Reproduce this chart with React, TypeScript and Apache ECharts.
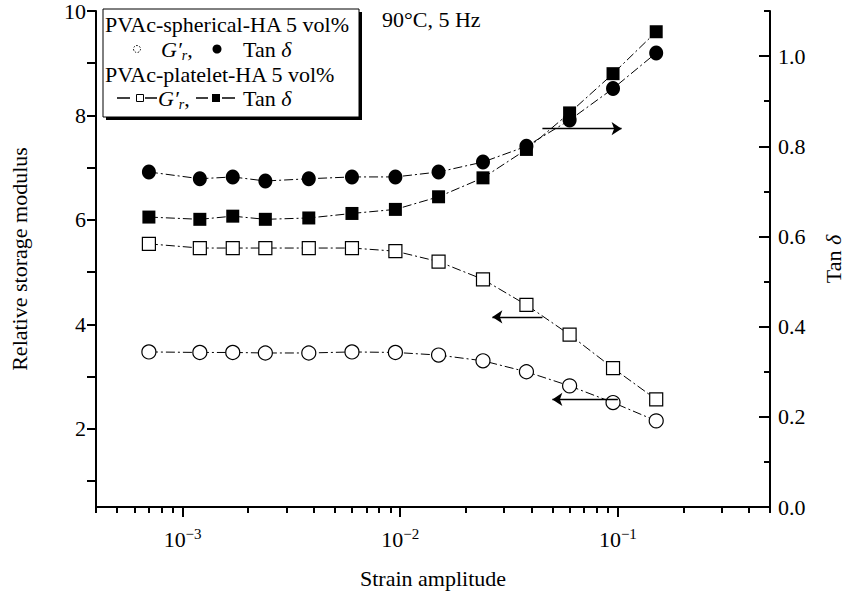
import React, { useEffect, useRef } from 'react';
import * as echarts from 'echarts';

const strain = [0.0007, 0.0012, 0.0017, 0.0024, 0.0038, 0.006, 0.0095, 0.015, 0.024, 0.038, 0.06, 0.095, 0.15];
const sphericalG = [3.47, 3.46, 3.46, 3.45, 3.45, 3.47, 3.46, 3.41, 3.3, 3.09, 2.82, 2.5, 2.15];
const sphericalTan = [0.743, 0.728, 0.732, 0.723, 0.728, 0.732, 0.732, 0.743, 0.765, 0.8, 0.858, 0.928, 1.007];
const plateletG = [5.54, 5.46, 5.46, 5.46, 5.46, 5.46, 5.4, 5.2, 4.86, 4.37, 3.8, 3.16, 2.56];
const plateletTan = [0.643, 0.638, 0.645, 0.638, 0.641, 0.651, 0.66, 0.688, 0.73, 0.793, 0.874, 0.961, 1.054];

const xMajor = [0.001, 0.01, 0.1];
const xMinor = [
  0.0004, 0.0005, 0.0006, 0.0007, 0.0008, 0.0009,
  0.002, 0.003, 0.004, 0.005, 0.006, 0.007, 0.008, 0.009,
  0.02, 0.03, 0.04, 0.05, 0.06, 0.07, 0.08, 0.09,
  0.2, 0.3, 0.4, 0.5,
];
const leftTicks = [1, 2, 3, 4, 5, 6, 7, 8, 9, 10];
const leftLabels = [2, 4, 6, 8, 10];
const rightMajor = [0, 0.2, 0.4, 0.6, 0.8, 1.0];
const rightMinor = [0.1, 0.3, 0.5, 0.7, 0.9, 1.1];

// arrow annotations [start, end] in data coordinates
const arrowTan = [[0.045, 0.839], [0.104, 0.839]];
const arrowPlatelet = [[0.045, 4.14], [0.0265, 4.14]];
const arrowSpherical = [[0.1, 2.56], [0.05, 2.56]];

const FONT = '"Liberation Serif", "Times New Roman", serif';
const BLACK = '#000';
const DASH = [9, 3, 2, 3];
const FS = 22;

function arrowMark(a: number[][]) {
  return {
    silent: true,
    symbol: ['none', 'arrow'],
    symbolSize: 10,
    label: { show: false },
    lineStyle: { color: BLACK, width: 1.3, type: 'solid' },
    emphasis: { disabled: true },
    data: [[{ coord: a[0] }, { coord: a[1] }]],
  };
}

const richG = {
  g: { fontFamily: FONT, fontSize: FS, fontStyle: 'italic', color: BLACK, lineHeight: 26 },
  r: { fontFamily: FONT, fontSize: 14, fontStyle: 'italic', color: BLACK, lineHeight: 12, verticalAlign: 'bottom' },
  c: { fontFamily: FONT, fontSize: FS, color: BLACK, lineHeight: 26 },
  n: { fontFamily: FONT, fontSize: FS, color: BLACK, lineHeight: 26 },
  d: { fontFamily: FONT, fontSize: FS, fontStyle: 'italic', color: BLACK, lineHeight: 26 },
};

export default function App() {
  const ref = useRef<HTMLDivElement>(null);
  useEffect(() => {
    document.body.style.margin = '0';
    const chart = echarts.init(ref.current!, null, { renderer: 'svg' });
    const pts = (ys: number[]) => strain.map((x, i) => [x, ys[i]]);
    const lineStyle = { color: BLACK, width: 1, type: DASH };
    const axisLineStyle = { color: BLACK, width: 2 };
    const txt = (text: string, x: number, y: number) => ({
      type: 'text', z: 102, x, y,
      style: { text, fontFamily: FONT, fontSize: FS, fill: BLACK, verticalAlign: 'middle' },
    });
    const rich = (text: string, x: number, y: number) => ({
      type: 'text', z: 102, x, y,
      style: { text, rich: richG, verticalAlign: 'middle' },
    });
    chart.setOption({
      animation: false,
      backgroundColor: '#fff',
      grid: { left: 93, right: 70, top: 11, bottom: 79, containLabel: false },
      xAxis: [
        {
          type: 'log',
          logBase: 10,
          min: 0.0004,
          max: 0.5,
          position: 'bottom',
          axisLine: { show: true, lineStyle: axisLineStyle },
          axisTick: { show: true, length: 10, customValues: xMajor, lineStyle: { color: BLACK, width: 2 } },
          axisLabel: {
            customValues: xMajor,
            margin: 19,
            formatter: (v: number) => {
              const e = Math.round(Math.log10(v));
              return `{b|10}{s|${e < 0 ? '−' : ''}${Math.abs(e)}}`;
            },
            rich: {
              b: { fontFamily: FONT, fontSize: FS, color: BLACK, lineHeight: 26 },
              s: { fontFamily: FONT, fontSize: 15, color: BLACK, lineHeight: 14, verticalAlign: 'top' },
            },
          },
          splitLine: { show: false },
          minorTick: { show: false },
          name: 'Strain amplitude',
          nameLocation: 'middle',
          nameGap: 60,
          nameTextStyle: { fontFamily: FONT, fontSize: FS, color: BLACK },
        },
        {
          type: 'log',
          logBase: 10,
          min: 0.0004,
          max: 0.5,
          position: 'bottom',
          axisLine: { show: false },
          axisTick: { show: true, length: 6, customValues: xMinor, lineStyle: { color: BLACK, width: 2 } },
          axisLabel: { show: false },
          splitLine: { show: false },
        },
      ],
      yAxis: [
        {
          type: 'value',
          position: 'left',
          min: 0.5,
          max: 10,
          axisLine: { show: true, lineStyle: axisLineStyle },
          axisTick: { show: true, length: 9, customValues: leftTicks, lineStyle: { color: BLACK, width: 2 } },
          axisLabel: { customValues: leftLabels, margin: 10, fontFamily: FONT, fontSize: FS, color: BLACK },
          splitLine: { show: false },
          name: 'Relative storage modulus',
          nameLocation: 'middle',
          nameGap: 66,
          nameRotate: 90,
          nameTextStyle: { fontFamily: FONT, fontSize: FS, color: BLACK },
        },
        {
          type: 'value',
          position: 'right',
          min: 0,
          max: 1.1,
          axisLine: { show: true, lineStyle: axisLineStyle },
          axisTick: { show: true, inside: true, length: 11, customValues: rightMajor, lineStyle: { color: BLACK, width: 2 } },
          axisLabel: {
            customValues: rightMajor,
            margin: 8,
            fontFamily: FONT,
            fontSize: FS,
            color: BLACK,
            formatter: (v: number) => v.toFixed(1),
          },
          splitLine: { show: false },
          name: '{n|Tan }{d|δ}',
          nameLocation: 'middle',
          nameGap: 50,
          nameRotate: 90,
          nameTextStyle: { rich: richG },
        },
        {
          type: 'value',
          position: 'right',
          min: 0,
          max: 1.1,
          axisLine: { show: false },
          axisTick: { show: true, inside: true, length: 6, customValues: rightMinor, lineStyle: { color: BLACK, width: 2 } },
          axisLabel: { show: false },
          splitLine: { show: false },
        },
      ],
      series: [
        {
          type: 'line',
          name: 'spherical G',
          xAxisIndex: 0,
          yAxisIndex: 0,
          data: pts(sphericalG),
          symbol: 'circle',
          symbolSize: 14,
          itemStyle: { color: '#fff', borderColor: BLACK, borderWidth: 1.2 },
          lineStyle,
          markLine: arrowMark(arrowSpherical),
        },
        {
          type: 'line',
          name: 'platelet G',
          xAxisIndex: 0,
          yAxisIndex: 0,
          data: pts(plateletG),
          symbol: 'rect',
          symbolSize: 13,
          itemStyle: { color: '#fff', borderColor: BLACK, borderWidth: 1.2 },
          lineStyle,
          markLine: arrowMark(arrowPlatelet),
        },
        {
          type: 'line',
          name: 'spherical tan',
          xAxisIndex: 0,
          yAxisIndex: 1,
          data: pts(sphericalTan),
          symbol: 'circle',
          symbolSize: [14, 15],
          itemStyle: { color: BLACK, borderColor: BLACK, borderWidth: 0 },
          lineStyle,
          markLine: arrowMark(arrowTan),
        },
        {
          type: 'line',
          name: 'platelet tan',
          xAxisIndex: 0,
          yAxisIndex: 1,
          data: pts(plateletTan),
          symbol: 'rect',
          symbolSize: 13,
          itemStyle: { color: BLACK, borderColor: BLACK, borderWidth: 0 },
          lineStyle,
        },
      ],
      graphic: [
        { type: 'rect', z: 100, shape: { x: 106, y: 12, width: 256, height: 108 }, style: { fill: BLACK } },
        { type: 'rect', z: 101, shape: { x: 103, y: 9, width: 256, height: 108 }, style: { fill: '#fff', stroke: BLACK, lineWidth: 1 } },
        txt('PVAc-spherical-HA 5 vol%', 105, 24),
        { type: 'circle', z: 102, shape: { cx: 137, cy: 49, r: 3.5 }, style: { fill: '#fff', stroke: BLACK, lineWidth: 1, lineDash: [1.5, 1.5] } },
        rich('{g|G′}{r|r}{c|,}', 161, 49),
        { type: 'circle', z: 102, shape: { cx: 217, cy: 49, r: 4.5 }, style: { fill: BLACK } },
        rich('{n|Tan }{d|δ}', 243, 49),
        txt('PVAc-platelet-HA 5 vol%', 105, 74),
        { type: 'line', z: 102, shape: { x1: 117, y1: 98, x2: 130, y2: 98 }, style: { stroke: BLACK, lineWidth: 1.5 } },
        { type: 'rect', z: 102, shape: { x: 136.5, y: 94.5, width: 7, height: 7 }, style: { fill: '#fff', stroke: BLACK, lineWidth: 1 } },
        { type: 'line', z: 102, shape: { x1: 145, y1: 98, x2: 157, y2: 98 }, style: { stroke: BLACK, lineWidth: 1.5 } },
        rich('{g|G′}{r|r}{c|,}', 158, 98),
        { type: 'line', z: 102, shape: { x1: 196, y1: 98, x2: 208, y2: 98 }, style: { stroke: BLACK, lineWidth: 1.5 } },
        { type: 'rect', z: 102, shape: { x: 212, y: 94, width: 8, height: 8 }, style: { fill: BLACK } },
        { type: 'line', z: 102, shape: { x1: 222, y1: 98, x2: 235, y2: 98 }, style: { stroke: BLACK, lineWidth: 1.5 } },
        rich('{n|Tan }{d|δ}', 243, 98),
        txt('90°C, 5 Hz', 382, 19),
      ],
    });
    return () => chart.dispose();
  }, []);
  return <div ref={ref} style={{ position: 'fixed', left: 0, top: 0, width: 852, height: 594 }} />;
}
